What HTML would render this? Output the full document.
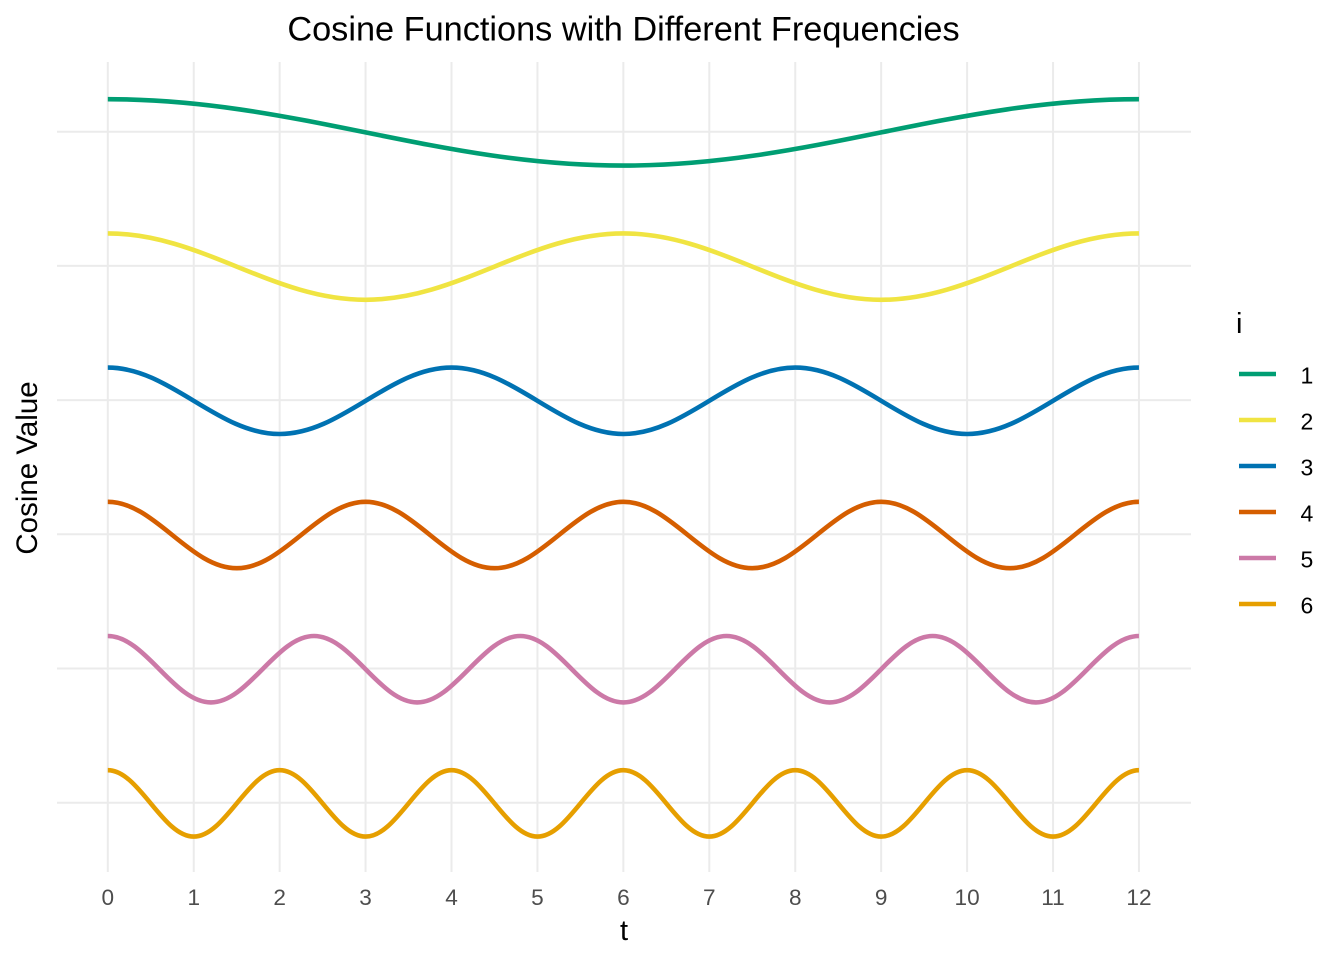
<!DOCTYPE html>
<html>
<head>
<meta charset="utf-8">
<style>
  html, body { margin: 0; padding: 0; background: #ffffff; }
  svg { display: block; }
  text { font-family: "Liberation Sans", Arial, sans-serif; }
</style>
</head>
<body>
<svg xmlns="http://www.w3.org/2000/svg" width="1344" height="960" viewBox="0 0 1344 960">
  <rect x="0" y="0" width="1344" height="960" fill="#ffffff"/>

  <!-- horizontal grid -->
  <g stroke="#EBEBEB" stroke-width="2" fill="none">
    <line x1="57" y1="131.7" x2="1191" y2="131.7"/>
    <line x1="57" y1="265.9" x2="1191" y2="265.9"/>
    <line x1="57" y1="400.1" x2="1191" y2="400.1"/>
    <line x1="57" y1="534.3" x2="1191" y2="534.3"/>
    <line x1="57" y1="668.5" x2="1191" y2="668.5"/>
    <line x1="57" y1="802.7" x2="1191" y2="802.7"/>
    <!-- vertical grid -->
    <line x1="107.8" y1="62" x2="107.8" y2="872"/>
    <line x1="193.73" y1="62" x2="193.73" y2="872"/>
    <line x1="279.66" y1="62" x2="279.66" y2="872"/>
    <line x1="365.59" y1="62" x2="365.59" y2="872"/>
    <line x1="451.52" y1="62" x2="451.52" y2="872"/>
    <line x1="537.45" y1="62" x2="537.45" y2="872"/>
    <line x1="623.38" y1="62" x2="623.38" y2="872"/>
    <line x1="709.31" y1="62" x2="709.31" y2="872"/>
    <line x1="795.24" y1="62" x2="795.24" y2="872"/>
    <line x1="881.17" y1="62" x2="881.17" y2="872"/>
    <line x1="967.1" y1="62" x2="967.1" y2="872"/>
    <line x1="1053.03" y1="62" x2="1053.03" y2="872"/>
    <line x1="1138.96" y1="62" x2="1138.96" y2="872"/>
  </g>

  <!-- curves -->
  <g fill="none" stroke-width="4.6" stroke-linejoin="round" stroke-linecap="butt">
    <path vector-effect="non-scaling-stroke" stroke="#009E73" transform="translate(107.8,132.4) scale(257.79,33.2)"
      d="M0,-1 c.36024,0 .67387,.48771 1,1 c.32613,.51229 .63976,1 1,1 c.36024,0 .67387,-.48771 1,-1 c.32613,-.51229 .63976,-1 1,-1"/>
    <path vector-effect="non-scaling-stroke" stroke="#F0E442" transform="translate(107.8,266.6) scale(128.895,33.2)"
      d="M0,-1 c.36024,0 .67387,.48771 1,1 c.32613,.51229 .63976,1 1,1 c.36024,0 .67387,-.48771 1,-1 c.32613,-.51229 .63976,-1 1,-1
             c.36024,0 .67387,.48771 1,1 c.32613,.51229 .63976,1 1,1 c.36024,0 .67387,-.48771 1,-1 c.32613,-.51229 .63976,-1 1,-1"/>
    <path vector-effect="non-scaling-stroke" stroke="#0072B2" transform="translate(107.8,400.8) scale(85.93,33.2)"
      d="M0,-1 c.36024,0 .67387,.48771 1,1 c.32613,.51229 .63976,1 1,1 c.36024,0 .67387,-.48771 1,-1 c.32613,-.51229 .63976,-1 1,-1
             c.36024,0 .67387,.48771 1,1 c.32613,.51229 .63976,1 1,1 c.36024,0 .67387,-.48771 1,-1 c.32613,-.51229 .63976,-1 1,-1
             c.36024,0 .67387,.48771 1,1 c.32613,.51229 .63976,1 1,1 c.36024,0 .67387,-.48771 1,-1 c.32613,-.51229 .63976,-1 1,-1"/>
    <path vector-effect="non-scaling-stroke" stroke="#D55E00" transform="translate(107.8,535.0) scale(64.4475,33.2)"
      d="M0,-1 c.36024,0 .67387,.48771 1,1 c.32613,.51229 .63976,1 1,1 c.36024,0 .67387,-.48771 1,-1 c.32613,-.51229 .63976,-1 1,-1
             c.36024,0 .67387,.48771 1,1 c.32613,.51229 .63976,1 1,1 c.36024,0 .67387,-.48771 1,-1 c.32613,-.51229 .63976,-1 1,-1
             c.36024,0 .67387,.48771 1,1 c.32613,.51229 .63976,1 1,1 c.36024,0 .67387,-.48771 1,-1 c.32613,-.51229 .63976,-1 1,-1
             c.36024,0 .67387,.48771 1,1 c.32613,.51229 .63976,1 1,1 c.36024,0 .67387,-.48771 1,-1 c.32613,-.51229 .63976,-1 1,-1"/>
    <path vector-effect="non-scaling-stroke" stroke="#CC79A7" transform="translate(107.8,669.2) scale(51.558,33.2)"
      d="M0,-1 c.36024,0 .67387,.48771 1,1 c.32613,.51229 .63976,1 1,1 c.36024,0 .67387,-.48771 1,-1 c.32613,-.51229 .63976,-1 1,-1
             c.36024,0 .67387,.48771 1,1 c.32613,.51229 .63976,1 1,1 c.36024,0 .67387,-.48771 1,-1 c.32613,-.51229 .63976,-1 1,-1
             c.36024,0 .67387,.48771 1,1 c.32613,.51229 .63976,1 1,1 c.36024,0 .67387,-.48771 1,-1 c.32613,-.51229 .63976,-1 1,-1
             c.36024,0 .67387,.48771 1,1 c.32613,.51229 .63976,1 1,1 c.36024,0 .67387,-.48771 1,-1 c.32613,-.51229 .63976,-1 1,-1
             c.36024,0 .67387,.48771 1,1 c.32613,.51229 .63976,1 1,1 c.36024,0 .67387,-.48771 1,-1 c.32613,-.51229 .63976,-1 1,-1"/>
    <path vector-effect="non-scaling-stroke" stroke="#E69F00" transform="translate(107.8,803.4) scale(42.965,33.2)"
      d="M0,-1 c.36024,0 .67387,.48771 1,1 c.32613,.51229 .63976,1 1,1 c.36024,0 .67387,-.48771 1,-1 c.32613,-.51229 .63976,-1 1,-1
             c.36024,0 .67387,.48771 1,1 c.32613,.51229 .63976,1 1,1 c.36024,0 .67387,-.48771 1,-1 c.32613,-.51229 .63976,-1 1,-1
             c.36024,0 .67387,.48771 1,1 c.32613,.51229 .63976,1 1,1 c.36024,0 .67387,-.48771 1,-1 c.32613,-.51229 .63976,-1 1,-1
             c.36024,0 .67387,.48771 1,1 c.32613,.51229 .63976,1 1,1 c.36024,0 .67387,-.48771 1,-1 c.32613,-.51229 .63976,-1 1,-1
             c.36024,0 .67387,.48771 1,1 c.32613,.51229 .63976,1 1,1 c.36024,0 .67387,-.48771 1,-1 c.32613,-.51229 .63976,-1 1,-1
             c.36024,0 .67387,.48771 1,1 c.32613,.51229 .63976,1 1,1 c.36024,0 .67387,-.48771 1,-1 c.32613,-.51229 .63976,-1 1,-1"/>
  </g>

  <!-- x tick labels -->
  <g font-size="22.6" fill="#4D4D4D" text-anchor="middle">
    <text x="107.8" y="905">0</text>
    <text x="193.73" y="905">1</text>
    <text x="279.66" y="905">2</text>
    <text x="365.59" y="905">3</text>
    <text x="451.52" y="905">4</text>
    <text x="537.45" y="905">5</text>
    <text x="623.38" y="905">6</text>
    <text x="709.31" y="905">7</text>
    <text x="795.24" y="905">8</text>
    <text x="881.17" y="905">9</text>
    <text x="967.1" y="905">10</text>
    <text x="1053.03" y="905">11</text>
    <text x="1138.96" y="905">12</text>
  </g>

  <!-- axis titles -->
  <text x="624" y="940" font-size="29" fill="#000000" text-anchor="middle">t</text>
  <text transform="translate(37,468) rotate(-90)" font-size="29.5" fill="#000000" text-anchor="middle">Cosine Value</text>

  <!-- title -->
  <text x="623.5" y="40.5" font-size="34.3" fill="#000000" text-anchor="middle">Cosine Functions with Different Frequencies</text>

  <!-- legend -->
  <text x="1236" y="333" font-size="29" fill="#000000">i</text>
  <g stroke-width="4.6" stroke-linecap="butt">
    <line x1="1239" y1="374" x2="1276" y2="374" stroke="#009E73"/>
    <line x1="1239" y1="420" x2="1276" y2="420" stroke="#F0E442"/>
    <line x1="1239" y1="466" x2="1276" y2="466" stroke="#0072B2"/>
    <line x1="1239" y1="512" x2="1276" y2="512" stroke="#D55E00"/>
    <line x1="1239" y1="558" x2="1276" y2="558" stroke="#CC79A7"/>
    <line x1="1239" y1="604" x2="1276" y2="604" stroke="#E69F00"/>
  </g>
  <g font-size="23" fill="#000000">
    <text x="1300.5" y="383.5">1</text>
    <text x="1300.5" y="429.5">2</text>
    <text x="1300.5" y="475.5">3</text>
    <text x="1300.5" y="521.5">4</text>
    <text x="1300.5" y="567.5">5</text>
    <text x="1300.5" y="613.5">6</text>
  </g>
</svg>
</body>
</html>
